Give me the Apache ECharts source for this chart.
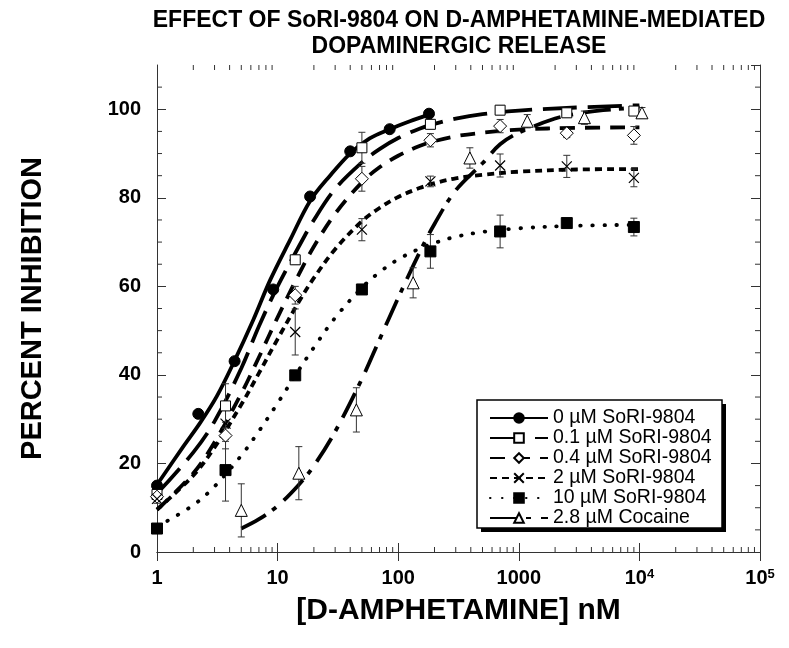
<!DOCTYPE html>
<html><head><meta charset="utf-8">
<script src="https://cdn.jsdelivr.net/npm/echarts@6/dist/echarts.min.js"></script>
<style>html,body{margin:0;padding:0;background:#fff}#c{width:789px;height:648px}</style>
</head><body><div id="c"></div>
<script>
// ---------------- data ----------------
const seriesNames = ['0 \u00b5M SoRI-9804','0.1 \u00b5M SoRI-9804','0.4 \u00b5M SoRI-9804','2 \u00b5M SoRI-9804','10 \u00b5M SoRI-9804','2.8 \u00b5M Cocaine'];

// measured points (x = [D-amphetamine] nM, y = % inhibition, e = error)
const x0 = [1, 2.2, 4.4, 9.2, 18.6, 40, 85, 180];
const y0 = [15.0, 31.2, 43.1, 59.3, 80.3, 90.5, 95.5, 99.0];
const e0 = [0.8, 0.8, 0.8, 0.8, 0.8, 0.8, 0.8, 0.8];
const xS = [1, 3.7, 14, 50, 185, 700, 2500, 9000];
const y1 = [13.0, 33.0, 66.0, 91.3, 96.6, 99.8, 99.2, 99.6];
const e1 = [1, 5, 1, 3.5, 1, 1, 1, 1];
const y2 = [12.5, 26.3, 58.0, 84.3, 93.0, 96.2, 94.6, 94.1];
const e2 = [1, 3, 2, 2.8, 1.5, 1.5, 1, 2];
const y3 = [12.0, 29.0, 49.7, 72.8, 83.7, 87.3, 87.1, 84.5];
const e3 = [1, 4, 5.2, 2.5, 1.2, 2.6, 2.5, 2];
const y4 = [5.3, 18.5, 39.9, 59.3, 67.9, 72.4, 74.3, 73.4];
const e4 = [1, 7, 1, 1, 3.8, 3.7, 0.8, 2];
const xC = [5, 15, 45, 133, 393, 1175, 3500, 10500];
const yC = [9.4, 17.8, 32.1, 60.8, 89.0, 97.3, 98.1, 99.2];
const eC = [6, 6, 5, 3.4, 2.3, 1.5, 1.5, 1.2];

// fitted curves
const cx0 = [1, 1.65, 2.27, 3.12, 4.29, 6.28, 8.67, 12.7, 18.6, 27.2, 39.9, 58, 85, 125, 180];
const cy0 = [15.2, 23.8, 29.1, 35.1, 42.6, 52.4, 61.4, 70.5, 79.3, 85.0, 90.0, 93.4, 95.5, 97.3, 98.8];
const cxS = [1, 2, 3, 5, 7, 10, 15, 20, 30, 50, 70, 100, 150, 200, 300, 500, 1000, 3000, 10000];
const cy1 = [13.2, 22.5, 29.5, 41.5, 51.0, 60.0, 69.0, 75.0, 82.0, 88.0, 91.0, 93.5, 95.6, 96.7, 97.9, 98.9, 99.7, 100.4, 100.9];
const cy2 = [9.5, 17.8, 24.8, 35.8, 44.0, 53.0, 62.7, 69.0, 76.4, 83.5, 86.9, 89.5, 91.7, 92.8, 93.9, 94.7, 95.4, 95.8, 95.9];
const cy3 = [9.6, 17.3, 23.6, 33.3, 40.4, 48.1, 56.5, 61.9, 68.4, 74.7, 77.7, 80.2, 82.2, 83.3, 84.4, 85.2, 85.9, 86.4, 86.5];
const cy4 = [5.7, 10.6, 14.8, 21.8, 27.3, 33.6, 41.1, 46.2, 52.9, 59.7, 63.2, 66.1, 68.5, 69.8, 71.2, 72.3, 73.1, 73.7, 73.9];
const cxC = [5, 7, 10, 15, 20, 30, 50, 70, 100, 150, 200, 300, 500, 700, 1000, 2000, 3000, 5000, 10000];
const cyC = [5.3, 7.4, 10.4, 15.2, 19.5, 27.2, 39.1, 48.0, 57.4, 67.6, 74.1, 81.7, 87.8, 92.1, 94.7, 97.9, 99.0, 99.8, 100.4];

// axis ticks
const xTickValues = [1, 10, 100, 1000, 10000, 100000];
const xTickTexts = ['1', '10', '100', '1000', '{b|10}{s|4}', '{b|10}{s|5}'];
const xMinorTicks = [2,3,4,5,6,7,8,9, 20,30,40,50,60,70,80,90, 200,300,400,500,600,700,800,900,
  2000,3000,4000,5000,6000,7000,8000,9000, 20000,30000,40000,50000,60000,70000,80000,90000];
const yMinorTicks = [5,10,15, 25,30,35, 45,50,55, 65,70,75, 85,90,95, 105];

// ---------------- chart ----------------
const FONT = '"Liberation Sans", Arial, Helvetica, sans-serif';
const dashes = ['solid', [34, 11], [15, 10], [7, 5], [0.5, 11.5], [28, 8, 5, 10]];
const caps = ['butt', 'butt', 'butt', 'butt', 'round', 'butt'];
const markers = ['circle', 'rect', 'diamond', 'path://M0,0L10,10M10,0L0,10', 'rect', 'triangle'];
const fills = ['#000', '#fff', '#fff', 'rgba(0,0,0,0)', '#000', '#fff'];
const msizes = [11, 10, 13, 10, 11, 12];

const pts = [
  [x0, y0, e0], [xS, y1, e1], [xS, y2, e2], [xS, y3, e3], [xS, y4, e4], [xC, yC, eC]
];
const curves = [[cx0, cy0], [cxS, cy1], [cxS, cy2], [cxS, cy3], [cxS, cy4], [cxC, cyC]];
const zip = (a, b) => a.map((v, i) => [v, b[i]]);

const series = [];
curves.forEach((c, i) => {
  series.push({
    name: seriesNames[i], type: 'line', data: zip(c[0], c[1]),
    smooth: 0.35, showSymbol: false, symbol: markers[i], symbolSize: msizes[i],
    itemStyle: { color: fills[i], borderColor: '#000', borderWidth: 1 },
    lineStyle: { color: '#000', width: 3.8, type: dashes[i], cap: caps[i] },
    emphasis: { disabled: true }, z: 3, silent: true
  });
});
pts.forEach((p, i) => {
  series.push({
    name: 'err' + i, type: 'custom', silent: true, z: 4,
    data: p[0].map((v, k) => [v, p[1][k], p[2][k]]),
    encode: { x: 0, y: 1 },
    renderItem: function (params, api) {
      const x = api.value(0), y = api.value(1), e = api.value(2);
      const lo = api.coord([x, y - e]), hi = api.coord([x, y + e]);
      const st = { stroke: '#333', lineWidth: 1 };
      return { type: 'group', children: [
        { type: 'line', shape: { x1: lo[0], y1: lo[1], x2: hi[0], y2: hi[1] }, style: st },
        { type: 'line', shape: { x1: lo[0] - 3.5, y1: lo[1], x2: lo[0] + 3.5, y2: lo[1] }, style: st },
        { type: 'line', shape: { x1: hi[0] - 3.5, y1: hi[1], x2: hi[0] + 3.5, y2: hi[1] }, style: st }
      ] };
    }
  });
  series.push({
    name: 'pts' + i, type: 'scatter', data: zip(p[0], p[1]), z: 5, silent: true,
    symbol: markers[i], symbolSize: msizes[i],
    itemStyle: { color: fills[i], borderColor: '#000', borderWidth: i === 3 ? 1.2 : 1, opacity: 1 }
  });
});
// minor ticks (bottom/top and left/right)
series.push({
  name: 'xminor', type: 'custom', silent: true, z: 2,
  data: xMinorTicks.map(v => [v, 0]), encode: { x: 0, y: 1 },
  renderItem: function (params, api) {
    const v = api.value(0);
    const b = api.coord([v, 0]), t = api.coord([v, 110]);
    const st = { stroke: '#333', lineWidth: 1 };
    return { type: 'group', children: [
      { type: 'line', shape: { x1: b[0], y1: b[1], x2: b[0], y2: b[1] - 5 }, style: st },
      { type: 'line', shape: { x1: t[0], y1: t[1], x2: t[0], y2: t[1] + 5 }, style: st }
    ] };
  }
});
series.push({
  name: 'yminor', type: 'custom', silent: true, z: 2,
  data: yMinorTicks.map(v => [1, v]), encode: { x: 0, y: 1 },
  renderItem: function (params, api) {
    const v = api.value(1);
    const l = api.coord([1, v]), r = api.coord([100000, v]);
    const st = { stroke: '#333', lineWidth: 1 };
    return { type: 'group', children: [
      { type: 'line', shape: { x1: l[0], y1: l[1], x2: l[0] + 5, y2: l[1] }, style: st },
      { type: 'line', shape: { x1: r[0], y1: r[1], x2: r[0] - 5, y2: r[1] }, style: st }
    ] };
  }
});

const axisLineStyle = { show: true, lineStyle: { color: '#333', width: 1 } };
const option = {
  backgroundColor: '#fff',
  animation: false,
  textStyle: { fontFamily: FONT },
  title: {
    text: 'EFFECT OF SoRI-9804 ON D-AMPHETAMINE-MEDIATED\nDOPAMINERGIC RELEASE',
    left: 454, top: 3, textAlign: 'center',
    textStyle: { fontFamily: FONT, fontSize: 23, fontWeight: 'bold', color: '#000', lineHeight: 26 }
  },
  graphic: [
    { type: 'rect', z: 5, shape: { x: 481, y: 404, width: 245, height: 128 }, style: { fill: '#000' }, silent: true },
    { type: 'rect', z: 6, shape: { x: 477, y: 400, width: 245, height: 128 }, style: { fill: '#fff', stroke: '#000', lineWidth: 1.5 }, silent: true }
  ],
  grid: { left: 157, right: 29, top: 65, bottom: 96, containLabel: false, outerBoundsMode: 'none' },
  legend: {
    data: seriesNames, orient: 'vertical', left: 489, top: 408, z: 10,
    itemWidth: 58, itemHeight: 12, itemGap: 0, selectedMode: false,
    padding: 0, backgroundColor: 'transparent', borderWidth: 0,
    textStyle: { fontFamily: FONT, fontSize: 19.5, color: '#000', lineHeight: 18.3 }
  },
  xAxis: [{
    type: 'log', logBase: 10, min: 1, max: 100000, position: 'bottom',
    axisLine: axisLineStyle, splitLine: { show: false },
    axisTick: { inside: true, length: 9, lineStyle: { color: '#333' } },
    axisLabel: {
      margin: 16, color: '#000', fontSize: 20, fontWeight: 'bold', fontFamily: FONT,
      formatter: function (v) { const k = xTickValues.indexOf(Math.pow(10, Math.round(Math.log10(v)))); return k >= 0 ? xTickTexts[k] : ''; },
      rich: {
        b: { fontSize: 20, fontWeight: 'bold', fontFamily: FONT, color: '#000' },
        s: { fontSize: 13, fontWeight: 'bold', fontFamily: FONT, color: '#000', verticalAlign: 'top' }
      }
    },
    name: '[D-AMPHETAMINE] nM', nameLocation: 'middle', nameGap: 44,
    nameTextStyle: { fontFamily: FONT, fontSize: 30, fontWeight: 'bold', color: '#000' }
  }, {
    type: 'log', logBase: 10, min: 1, max: 100000, position: 'top',
    axisLine: axisLineStyle, splitLine: { show: false },
    axisTick: { inside: true, length: 9, lineStyle: { color: '#333' } },
    axisLabel: { show: false }
  }],
  yAxis: [{
    type: 'value', min: 0, max: 110, interval: 20, position: 'left',
    axisLine: axisLineStyle, splitLine: { show: false },
    axisTick: { inside: true, length: 9, lineStyle: { color: '#333' } },
    axisLabel: { margin: 16, color: '#000', fontSize: 20, fontWeight: 'bold', fontFamily: FONT, showMaxLabel: false },
    name: 'PERCENT INHIBITION', nameLocation: 'middle', nameGap: 110, nameRotate: 90,
    nameTextStyle: { fontFamily: FONT, fontSize: 29, fontWeight: 'bold', color: '#000' }
  }, {
    type: 'value', min: 0, max: 110, interval: 20, position: 'right',
    axisLine: axisLineStyle, splitLine: { show: false },
    axisTick: { inside: true, length: 9, lineStyle: { color: '#333' } },
    axisLabel: { show: false }
  }],
  series: series
};
const chart = echarts.init(document.getElementById('c'));
chart.setOption(option);
</script>
</body></html>
